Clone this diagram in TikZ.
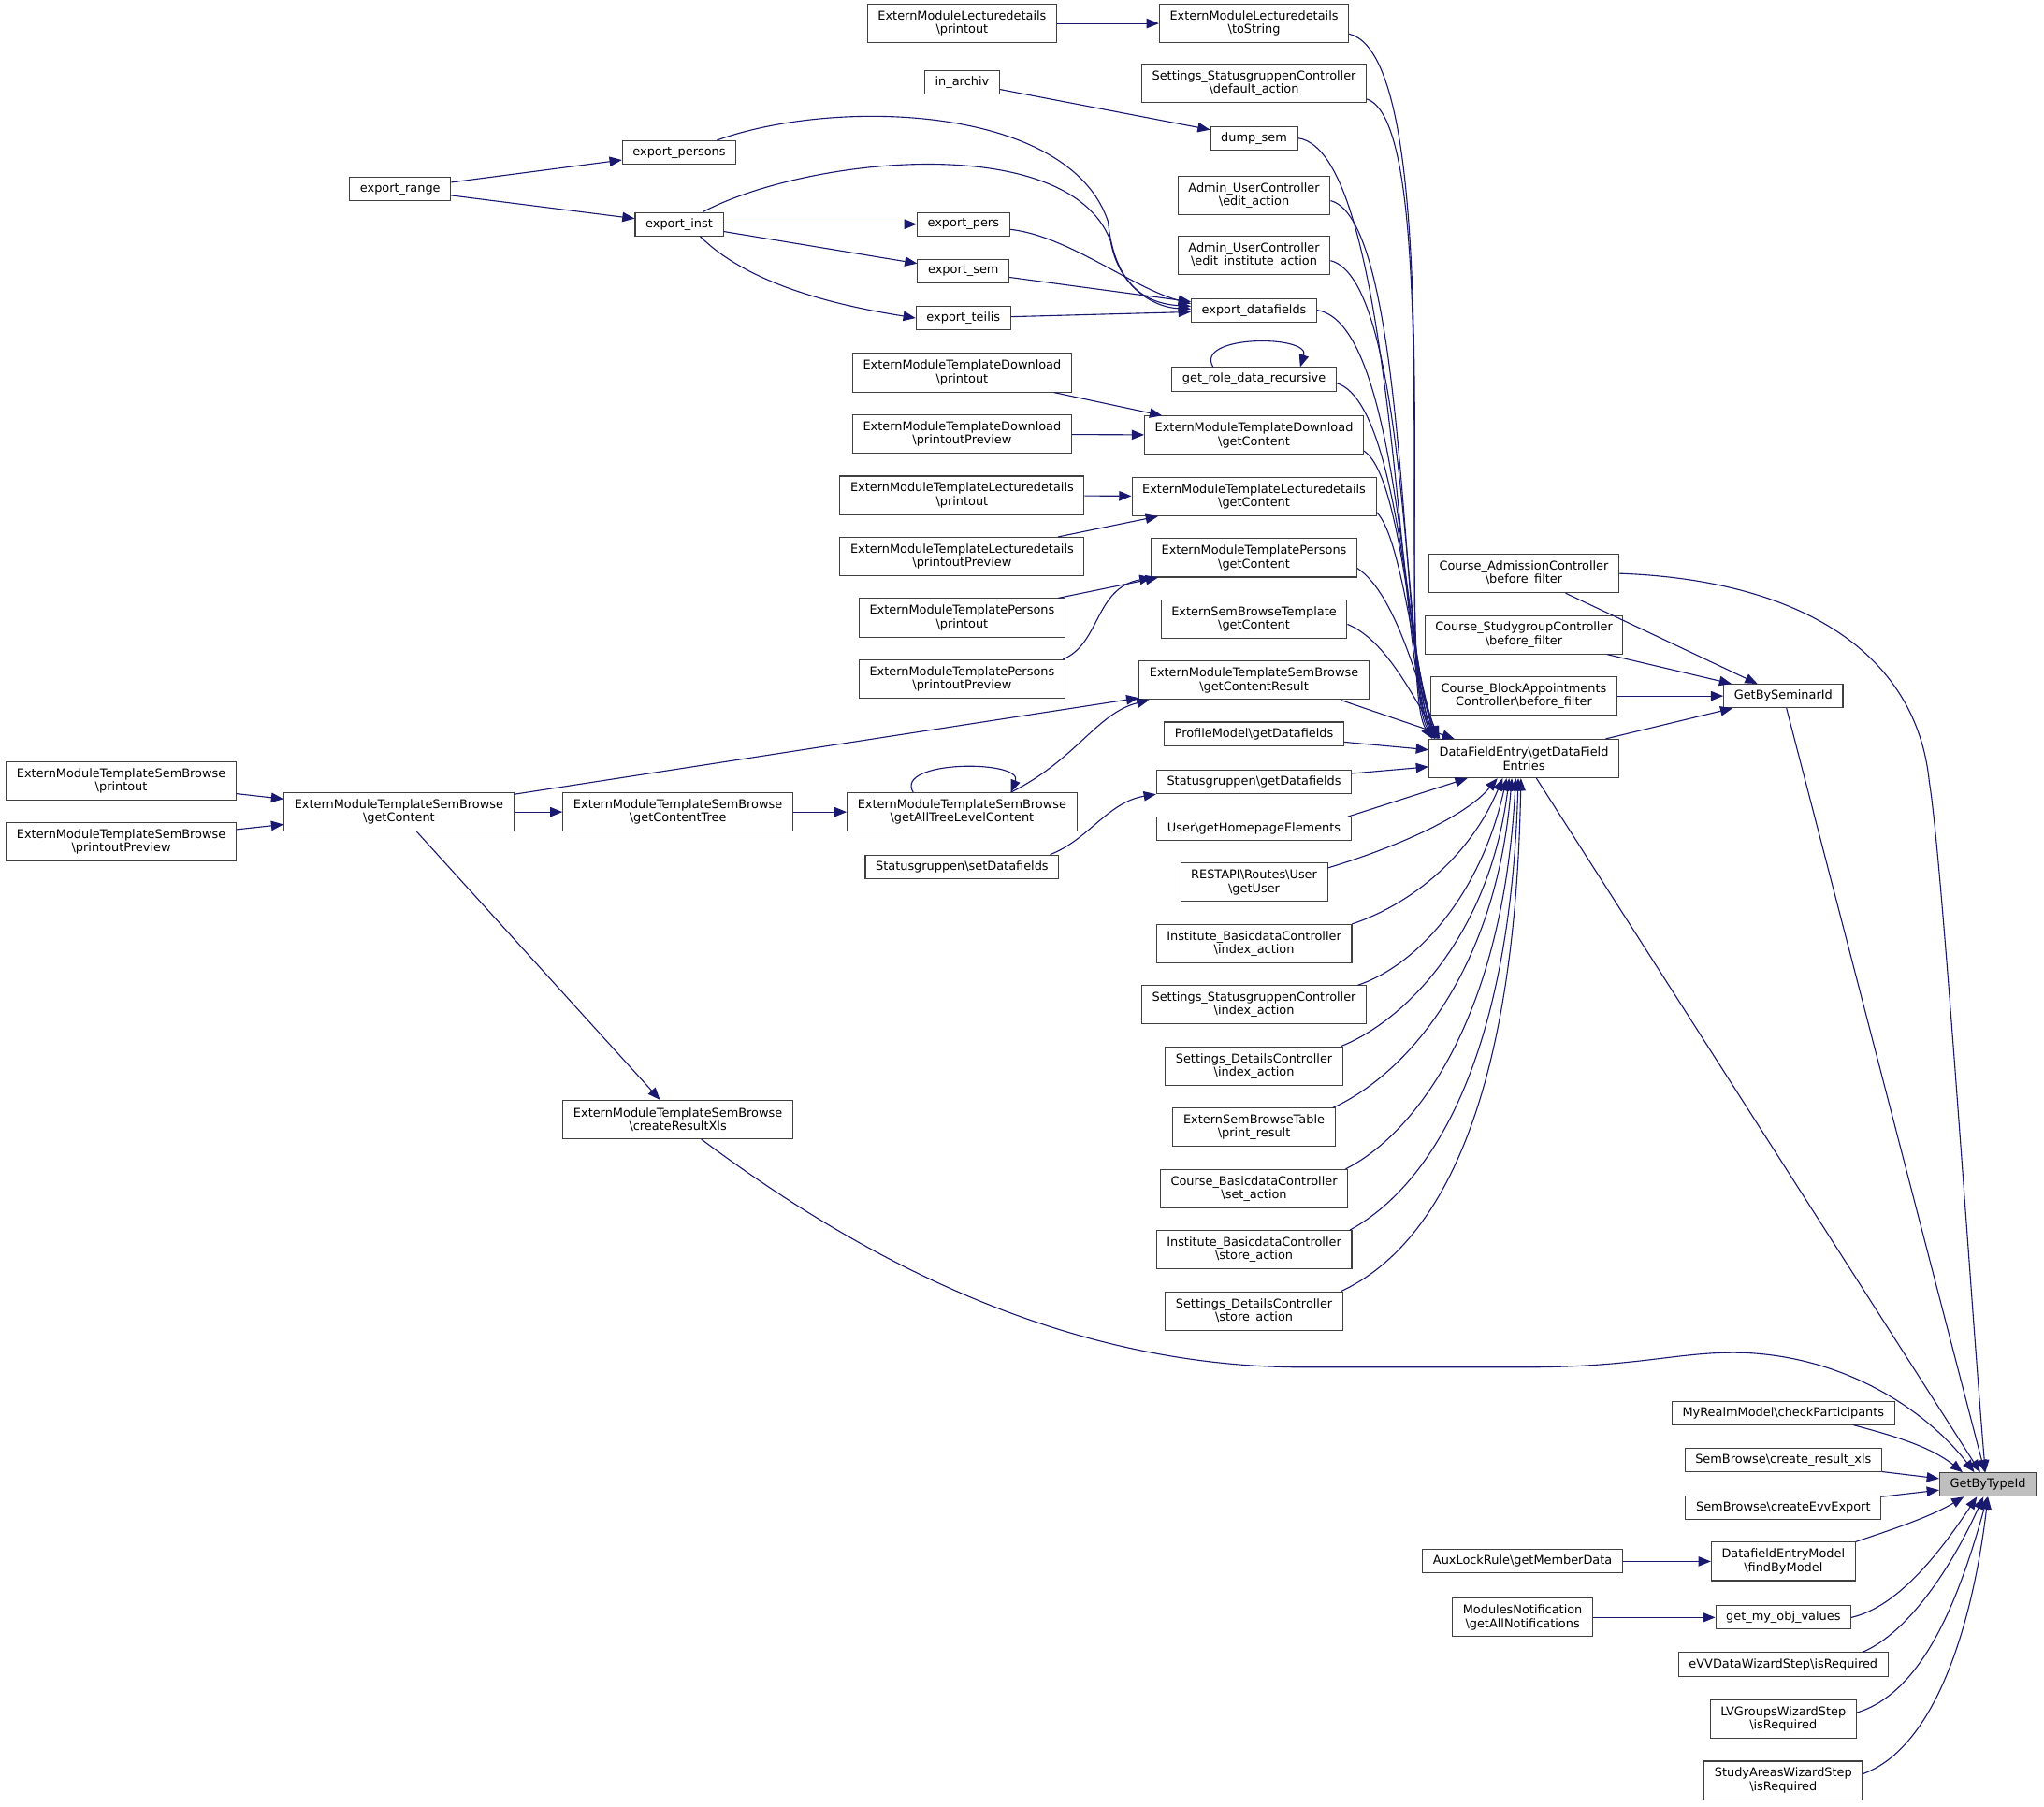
\documentclass[tikz,border=0pt]{standalone}
\usepackage{fontspec}
\setmainfont{DejaVu Sans}
\usepackage{tikz}
\usepackage{xcolor}
\usetikzlibrary{shapes, positioning, arrows.meta}

\definecolor{edgeblue}{HTML}{191970}
\newcommand{\bsl}{\textbackslash}

\tikzset{
  fn/.style={draw=black!75, fill=white, rectangle, line width=0.75pt,
    inner xsep=8pt, inner ysep=2pt, minimum height=18pt, align=center,
    font=\fontsize{9.25}{10.3}\selectfont},
  fn2/.style={fn, minimum height=29.5pt},
  root/.style={fn, fill=black!25},
  call/.style={->, draw=edgeblue, line width=0.8pt},
}

\begin{document}
\begin{tikzpicture}[x=1pt, y=-1pt, >={Triangle[length=9.5pt, width=7.5pt]}]
        \useasboundingbox (0, 0) rectangle (1568, 1386.4);

        % left part
        \node[fn2] (emtsb_printout) at (93, 599) {ExternModuleTemplateSemBrowse\\\bsl printout};
        \node[fn2] (emtsb_preview) at (93, 646) {ExternModuleTemplateSemBrowse\\\bsl printoutPreview};
        \node[fn] (export_range) at (307, 145) {export\_range};
        \node[fn2] (emtsb_getcontent) at (306, 623) {ExternModuleTemplateSemBrowse\\\bsl getContent};
        \node[fn] (export_persons) at (521, 117) {export\_persons};
        \node[fn] (export_inst) at (521, 172) {export\_inst};
        \node[fn2] (emtsb_tree) at (520, 623) {ExternModuleTemplateSemBrowse\\\bsl getContentTree};
        \node[fn2] (emtsb_xls) at (520, 859) {ExternModuleTemplateSemBrowse\\\bsl createResultXls};

        % second column
        \node[fn2] (emld_printout) at (738, 18) {ExternModuleLecturedetails\\\bsl printout};
        \node[fn] (in_archiv) at (738, 63) {in\_archiv};
        \node[fn] (export_pers) at (739, 172) {export\_pers};
        \node[fn] (export_sem) at (739, 208) {export\_sem};
        \node[fn] (export_teilis) at (739, 244) {export\_teilis};
        \node[fn2] (emtd_printout) at (738, 286) {ExternModuleTemplateDownload\\\bsl printout};
        \node[fn2] (emtd_preview) at (738, 333) {ExternModuleTemplateDownload\\\bsl printoutPreview};
        \node[fn2] (emtld_printout) at (738, 380) {ExternModuleTemplateLecturedetails\\\bsl printout};
        \node[fn2] (emtld_preview) at (738, 427) {ExternModuleTemplateLecturedetails\\\bsl printoutPreview};
        \node[fn2] (emtp_printout) at (738, 474) {ExternModuleTemplatePersons\\\bsl printout};
        \node[fn2] (emtp_preview) at (738, 521) {ExternModuleTemplatePersons\\\bsl printoutPreview};
        \node[fn2] (emtsb_alltree) at (738, 623) {ExternModuleTemplateSemBrowse\\\bsl getAllTreeLevelContent};
        \node[fn] (sg_set) at (738, 665) {Statusgruppen\bsl setDatafields};

        % callers of getDataFieldEntries
        \node[fn2] (emld_tostring) at (962, 18) {ExternModuleLecturedetails\\\bsl toString};
        \node[fn2] (ssc_default) at (962, 64) {Settings\_StatusgruppenController\\\bsl default\_action};
        \node[fn] (dump_sem) at (962, 106) {dump\_sem};
        \node[fn2] (auc_edit) at (962, 150) {Admin\_UserController\\\bsl edit\_action};
        \node[fn2] (auc_edit_inst) at (962, 196) {Admin\_UserController\\\bsl edit\_institute\_action};
        \node[fn] (export_datafields) at (962, 238) {export\_datafields};
        \node[fn] (get_role) at (962, 291) {get\_role\_data\_recursive};
        \node[fn2] (emtd_getcontent) at (962, 334) {ExternModuleTemplateDownload\\\bsl getContent};
        \node[fn2] (emtld_getcontent) at (962, 381) {ExternModuleTemplateLecturedetails\\\bsl getContent};
        \node[fn2] (emtp_getcontent) at (962, 428) {ExternModuleTemplatePersons\\\bsl getContent};
        \node[fn2] (esbt_getcontent) at (962, 475) {ExternSemBrowseTemplate\\\bsl getContent};
        \node[fn2] (emtsb_result) at (962, 522) {ExternModuleTemplateSemBrowse\\\bsl getContentResult};
        \node[fn] (profile) at (962, 563) {ProfileModel\bsl getDatafields};
        \node[fn] (sg_get) at (962, 600) {Statusgruppen\bsl getDatafields};
        \node[fn] (user_home) at (962, 636) {User\bsl getHomepageElements};
        \node[fn2] (rest_user) at (962, 677) {RESTAPI\bsl Routes\bsl User\\\bsl getUser};
        \node[fn2] (ibc_index) at (962, 724) {Institute\_BasicdataController\\\bsl index\_action};
        \node[fn2] (ssc_index) at (962, 771) {Settings\_StatusgruppenController\\\bsl index\_action};
        \node[fn2] (sdc_index) at (962, 818) {Settings\_DetailsController\\\bsl index\_action};
        \node[fn2] (esbtable) at (962, 865) {ExternSemBrowseTable\\\bsl print\_result};
        \node[fn2] (cbc_set) at (962, 912) {Course\_BasicdataController\\\bsl set\_action};
        \node[fn2] (ibc_store) at (962, 959) {Institute\_BasicdataController\\\bsl store\_action};
        \node[fn2] (sdc_store) at (962, 1006) {Settings\_DetailsController\\\bsl store\_action};

        % right part
        \node[fn2] (cac_before) at (1169, 440) {Course\_AdmissionController\\\bsl before\_filter};
        \node[fn2] (csc_before) at (1169, 487) {Course\_StudygroupController\\\bsl before\_filter};
        \node[fn2] (cbac_before) at (1169, 534) {Course\_BlockAppointments\\Controller\bsl before\_filter};
        \node[fn2] (dfe) at (1169, 582) {DataFieldEntry\bsl getDataField\\Entries};
        \node[fn] (by_seminar) at (1368, 534) {GetBySeminarId};
        \node[fn] (myrealm) at (1368, 1084) {MyRealmModel\bsl checkParticipants};
        \node[fn] (sb_xls) at (1368, 1120) {SemBrowse\bsl create\_result\_xls};
        \node[fn] (sb_evv) at (1368, 1157) {SemBrowse\bsl createEvvExport};
        \node[fn] (aux_lock) at (1168, 1198) {AuxLockRule\bsl getMemberData};
        \node[fn2] (dem_find) at (1368, 1198) {DatafieldEntryModel\\\bsl findByModel};
        \node[fn2] (modules_notif) at (1168, 1241) {ModulesNotification\\\bsl getAllNotifications};
        \node[fn] (get_my_obj) at (1368, 1241) {get\_my\_obj\_values};
        \node[fn] (evv_wizard) at (1368, 1277) {eVVDataWizardStep\bsl isRequired};
        \node[fn2] (lvgroups) at (1368, 1319) {LVGroupsWizardStep\\\bsl isRequired};
        \node[fn2] (studyareas) at (1368, 1366) {StudyAreasWizardStep\\\bsl isRequired};
        \node[root] (by_type) at (1525, 1139) {GetByTypeId};

        % export chain
        \draw[call] (emld_printout) -- (emld_tostring);
        \draw[call] (in_archiv) -- (dump_sem);
        \draw[call] (export_range) -- (export_persons);
        \draw[call] (export_range) -- (export_inst);
        \draw[call] (export_inst) -- (export_pers);
        \draw[call] (export_inst) -- (export_sem);
        \draw[call] ([xshift=-18pt]export_inst.south east) .. controls +(40,40) and +(-50,-8) .. (export_teilis.west);
        \draw[call] ([xshift=-15pt]export_persons.north east) .. controls (640,75) and (820,80) .. (850,170)
            .. controls (855,220) and (880,233) .. ([yshift=3pt]export_datafields.west);
        \draw[call] ([xshift=-16pt]export_inst.north east) .. controls (620,120) and (820,100) .. (852,185)
            .. controls (858,220) and (885,236) .. ([yshift=1pt]export_datafields.west);
        \draw[call] ([yshift=-4pt]export_pers.east) .. controls +(45,5) and +(-45,-12) .. ([yshift=5pt]export_datafields.west);
        \draw[call] (export_sem) -- (export_datafields);
        \draw[call] (export_teilis) -- (export_datafields);
        \draw[call] ([xshift=32pt]get_role.north west) .. controls +(-15,-25) and +(8,-25) .. ([xshift=-28pt]get_role.north east);

        % extern module templates
        \draw[call] (emtd_printout) -- (emtd_getcontent);
        \draw[call] (emtd_preview) -- (emtd_getcontent);
        \draw[call] (emtld_printout) -- (emtld_getcontent);
        \draw[call] (emtld_preview) -- (emtld_getcontent);
        \draw[call] (emtp_printout) -- (emtp_getcontent);
        \draw[call] ([xshift=-2pt]emtp_preview.north east) .. controls +(29,-12) and +(-44,8) .. ([xshift=1pt]emtp_getcontent.south west);
        \draw[call] (emtsb_printout) -- (emtsb_getcontent);
        \draw[call] (emtsb_preview) -- (emtsb_getcontent);
        \draw[call] (emtsb_getcontent) -- (emtsb_result);
        \draw[call] (emtsb_getcontent) -- (emtsb_tree);
        \draw[call] (emtsb_getcontent) -- (emtsb_xls);
        \draw[call] (emtsb_tree) -- (emtsb_alltree);
        \draw[call] ([xshift=51pt]emtsb_alltree.north west) .. controls +(-15,-25) and +(10,-25) .. ([xshift=-51pt]emtsb_alltree.north east);
        \draw[call] ([xshift=-51pt]emtsb_alltree.north east) .. controls +(50,-25) and +(-40,10) .. ([xshift=8pt]emtsb_result.south west);
        \draw[call] ([xshift=-7pt]sg_set.north east) .. controls +(29,-11) and +(-37,6) .. (sg_get.south west);

        % into getDataFieldEntries from above
        \draw[call] ([yshift=-8pt]emld_tostring.east) .. controls +(80,20) and +(-30,-46) .. ([xshift=3pt]dfe.north west);
        \draw[call] ([yshift=-12pt]ssc_default.east) .. controls +(60,20) and +(-30,-50) .. ([xshift=4pt]dfe.north west);
        \draw[call] (dump_sem.east) .. controls +(75,10) and +(-28,-50) .. ([xshift=5pt]dfe.north west);
        \draw[call] ([yshift=-4pt]auc_edit.east) .. controls +(60,15) and +(-26,-50) .. ([xshift=5pt]dfe.north west);
        \draw[call] ([yshift=-4pt]auc_edit_inst.east) .. controls +(60,15) and +(-25,-50) .. ([xshift=6pt]dfe.north west);
        \draw[call] (export_datafields.east) .. controls +(65,10) and +(-24,-50) .. ([xshift=6pt]dfe.north west);
        \draw[call] ([yshift=-3pt]get_role.east) .. controls +(50,15) and +(-22,-50) .. ([xshift=7pt]dfe.north west);
        \draw[call] ([yshift=-12pt]emtd_getcontent.east) .. controls +(30,20) and +(-20,-50) .. ([xshift=7pt]dfe.north west);
        \draw[call] ([yshift=-12pt]emtld_getcontent.east) .. controls +(20,20) and +(-18,-45) .. ([xshift=8pt]dfe.north west);
        \draw[call] ([yshift=-8pt]emtp_getcontent.east) .. controls +(30,20) and +(-16,-40) .. ([xshift=8pt]dfe.north west);
        \draw[call] ([yshift=-4pt]esbt_getcontent.east) .. controls +(30,12) and +(-20,-30) .. ([xshift=9pt]dfe.north west);
        \draw[call] ([xshift=-22pt]emtsb_result.south east) -- ([xshift=20pt]dfe.north west);
        \draw[call] (profile) -- (dfe);
        \draw[call] (sg_get) -- (dfe);
        \draw[call] ([xshift=-3pt]user_home.north east) -- ([xshift=30pt]dfe.south west);

        % into getDataFieldEntries from below
        \draw[call] ([yshift=-4pt]rest_user.north east) .. controls +(50,-15) and +(-25,30) .. ([xshift=53pt]dfe.south west);
        \draw[call] (ibc_index.north east) .. controls +(45,-15) and +(-25,60) .. ([xshift=57pt]dfe.south west);
        \draw[call] ([xshift=-7pt]ssc_index.north east) .. controls +(45,-15) and +(-20,90) .. ([xshift=60pt]dfe.south west);
        \draw[call] ([xshift=-2pt]sdc_index.north east) .. controls +(50,-20) and +(-15,120) .. ([xshift=62pt]dfe.south west);
        \draw[call] ([xshift=-2pt]esbtable.north east) .. controls +(55,-25) and +(-12,150) .. ([xshift=64pt]dfe.south west);
        \draw[call] ([xshift=-2pt]cbc_set.north east) .. controls +(50,-25) and +(-10,190) .. ([xshift=67pt]dfe.south west);
        \draw[call] ([xshift=-2pt]ibc_store.north east) .. controls +(55,-30) and +(-7,230) .. ([xshift=69pt]dfe.south west);
        \draw[call] ([xshift=-2pt]sdc_store.north east) .. controls +(65,-30) and +(-5,270) .. ([xshift=71pt]dfe.south west);

        % GetBySeminarId
        \draw[call] (cac_before) -- (by_seminar);
        \draw[call] (csc_before) -- (by_seminar);
        \draw[call] (cbac_before) -- (by_seminar);
        \draw[call] (dfe) -- (by_seminar);

        % GetByTypeId
        \draw[call] (cac_before.east) .. controls (1380,445) and (1470,500) .. (1480,600)
            .. controls (1490,660) and (1512,1000) .. ([xshift=-2pt]by_type.north);
        \draw[call] (by_seminar) -- (by_type);
        \draw[call] (dfe) -- (by_type);
        \draw[call] ([xshift=18pt]emtsb_xls.south) .. controls (640,950) and (800,1049) .. (1000,1049)
            -- (1170,1049) .. controls (1260,1049) and (1290,1036) .. (1340,1038)
            .. controls (1420,1042) and (1480,1085) .. ([xshift=27pt]by_type.north west);
        \draw[call] ([xshift=-32pt]myrealm.south east) .. controls +(30,8) and +(-25,-20) .. ([xshift=18pt]by_type.north west);
        \draw[call] (sb_xls) -- (by_type);
        \draw[call] (sb_evv) -- (by_type);
        \draw[call] (dem_find.north east) .. controls +(30,-10) and +(-25,15) .. ([xshift=19pt]by_type.south west);
        \draw[call] (get_my_obj.east) .. controls +(35,-8) and +(-30,45) .. ([xshift=29pt]by_type.south west);
        \draw[call] ([xshift=-20pt]evv_wizard.north east) .. controls +(35,-15) and +(-25,55) .. ([xshift=34pt]by_type.south west);
        \draw[call] ([yshift=5pt]lvgroups.east) .. controls +(50,-15) and +(-22,80) .. ([xshift=37pt]by_type.south west);
        \draw[call] ([yshift=5pt]studyareas.east) .. controls +(55,-20) and +(-12,100) .. (by_type.south);
        \draw[call] (aux_lock) -- (dem_find);
        \draw[call] (modules_notif) -- (get_my_obj);
    \end{tikzpicture}
\end{document}
